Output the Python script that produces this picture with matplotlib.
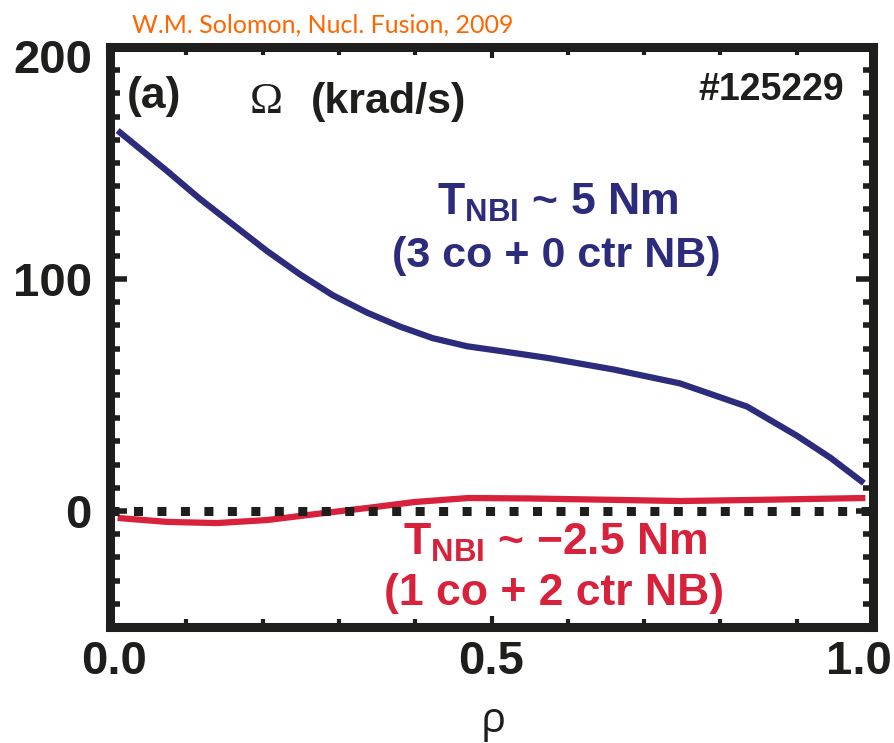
import matplotlib
matplotlib.use('Agg')
import matplotlib.pyplot as plt
from matplotlib.ticker import MultipleLocator
from matplotlib.transforms import ScaledTranslation

plt.rcParams['mathtext.fontset'] = 'custom'
plt.rcParams['mathtext.rm'] = 'Liberation Sans:bold'
plt.rcParams['mathtext.it'] = 'Liberation Sans:bold'
plt.rcParams['mathtext.bf'] = 'Liberation Sans:bold'

# rotation profiles vs normalised radius
rho_co = [0.01, 0.075, 0.118, 0.161, 0.206, 0.249, 0.292, 0.337, 0.38, 0.423,
          0.468, 0.511, 0.573, 0.66, 0.747, 0.835, 0.9, 0.944, 0.988]
omega_co = [164, 146.5, 134.5, 123.5, 112, 102, 93, 85.5, 79.5, 74.5,
            71, 69, 66, 61, 55, 45, 32.5, 23, 12]

rho_ctr = [0.01, 0.075, 0.14, 0.206, 0.27, 0.337, 0.40, 0.47, 0.55, 0.66,
           0.747, 0.85, 0.99]
omega_ctr = [-3, -4.7, -5.2, -3.9, -1.3, 1.3, 3.9, 5.6, 5.4, 4.8,
             4.3, 4.8, 5.6]

xticks = [0.0, 0.5, 1.0]
xticklabels = ['0.0', '0.5', '1.0']
yticks = [0, 100, 200]
yticklabels = ['0', '100', '200']

blue = '#2d2b7c'
red = '#d8213a'
ink = '#1e1f1c'

W, H = 894, 743
fig = plt.figure(figsize=(W / 100, H / 100), dpi=100)
ax = fig.add_axes([110 / W, 1 - 627 / H, 763 / W, 580 / H])


def px(x, y):
    return x / W, 1 - y / H


ax.plot(rho_co, omega_co, color=blue, lw=4.5, solid_capstyle='butt', zorder=3)
ax.plot(rho_ctr, omega_ctr, color=red, lw=4.5, solid_capstyle='butt', zorder=3)
ax.axhline(0, color=ink, lw=6.5, linestyle=(0, (1, 1.6)), dash_capstyle='butt', zorder=4)

ax.set_xlim(0, 1)
ax.set_ylim(-50, 200)

for s in ax.spines.values():
    s.set_linewidth(6.5)
    s.set_color(ink)

ax.set_xticks(xticks)
ax.set_xticklabels(xticklabels)
ax.set_yticks(yticks)
ax.set_yticklabels(yticklabels)
ax.xaxis.set_minor_locator(MultipleLocator(0.1))
ax.yaxis.set_minor_locator(MultipleLocator(10))
ax.tick_params(which='both', direction='in', top=True, right=True, color=ink)
ax.tick_params(axis='y', which='major', length=12, width=4)
ax.tick_params(axis='y', which='minor', length=7, width=4)
ax.tick_params(axis='x', which='major', length=8, width=3)
ax.tick_params(axis='x', which='minor', length=6, width=3)
ax.tick_params(axis='x', which='major', pad=9)
ax.tick_params(axis='y', which='major', pad=13)
for lab in ax.get_xticklabels() + ax.get_yticklabels():
    lab.set_fontfamily('Liberation Sans')
    lab.set_fontweight('bold')
    lab.set_fontsize(34)
    lab.set_color(ink)

# keep the end labels inside the canvas
xl = ax.get_xticklabels()
xl[0].set_transform(xl[0].get_transform() + ScaledTranslation(0.04, 0, fig.dpi_scale_trans))
xl[-1].set_transform(xl[-1].get_transform() + ScaledTranslation(-0.14, 0, fig.dpi_scale_trans))
yl = ax.get_yticklabels()
yl[-1].set_transform(yl[-1].get_transform() + ScaledTranslation(0, -0.09, fig.dpi_scale_trans))

# x label
fig.text(*px(493, 700), 'ρ', family='Open Sans', fontsize=30, color=ink,
         ha='center', va='top')

# citation
fig.text(*px(132, 33), 'W.M. Solomon, Nucl. Fusion, 2009', family='Lato',
         fontsize=18, color='#ff6600', ha='left', va='baseline')

# panel annotations
fig.text(*px(154, 108), '(a)', family='Liberation Sans', weight='bold',
         fontsize=32, color=ink, ha='center', va='baseline')
fig.text(*px(266, 113), 'Ω', family='Liberation Serif', fontsize=32,
         color=ink, ha='center', va='baseline')
fig.text(*px(389, 113), '(krad/s)', family='Liberation Sans', weight='bold',
         fontsize=31, color=ink, ha='center', va='baseline')
fig.text(*px(771, 100), '#125229', family='Liberation Sans', weight='bold',
         fontsize=27, color=ink, ha='center', va='baseline')

# torque labels
fig.text(*px(558, 215), r'T$_{\mathrm{NBI}}$ ~ 5 Nm', family='Liberation Sans',
         weight='bold', fontsize=32, color=blue, ha='center', va='baseline')
fig.text(*px(556, 267), '(3 co + 0 ctr NB)', family='Liberation Sans',
         weight='bold', fontsize=31, color=blue, ha='center', va='baseline')
fig.text(*px(555, 555), r'T$_{\mathrm{NBI}}$ ~ −2.5 Nm', family='Liberation Sans',
         weight='bold', fontsize=32, color=red, ha='center', va='baseline')
fig.text(*px(554, 605), '(1 co + 2 ctr NB)', family='Liberation Sans',
         weight='bold', fontsize=32, color=red, ha='center', va='baseline')

fig.savefig('out.png', dpi=100)
